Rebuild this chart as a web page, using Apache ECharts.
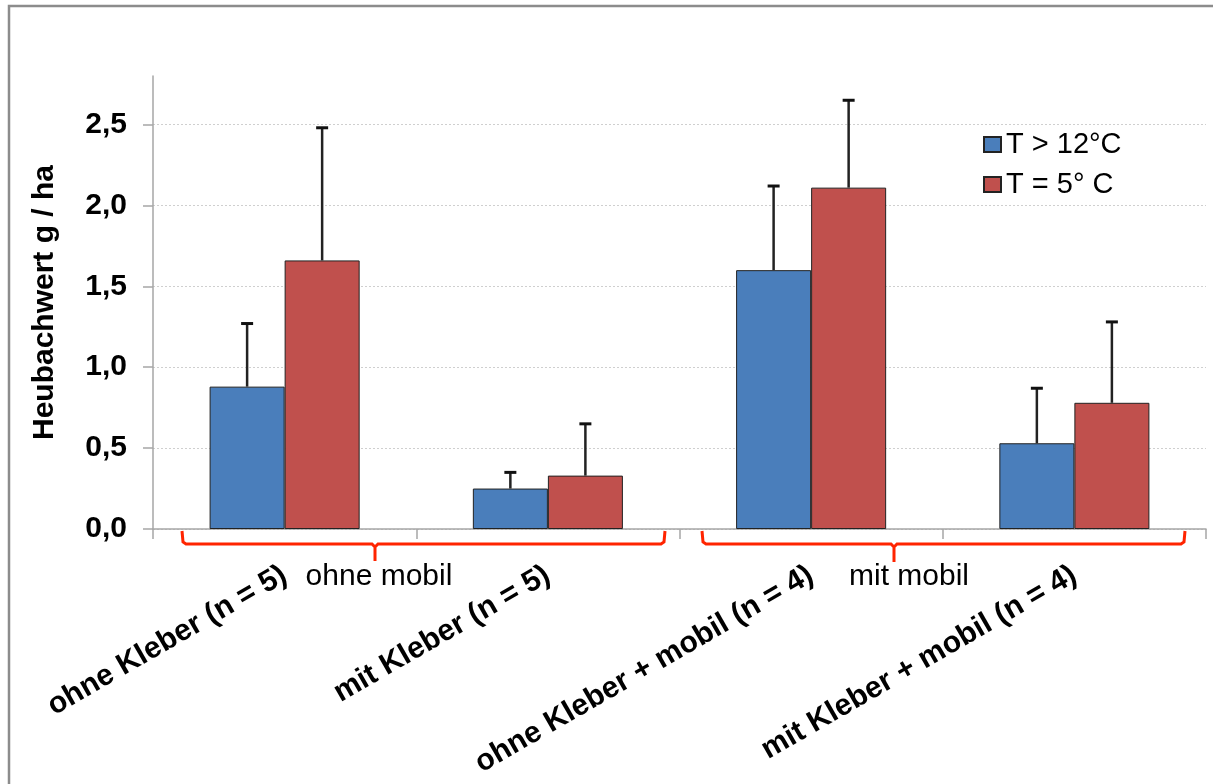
<!DOCTYPE html>
<html>
<head>
<meta charset="utf-8">
<script src="https://cdn.jsdelivr.net/npm/echarts@6/dist/echarts.min.js"></script>
<style>
html,body{margin:0;padding:0;background:#fff;}
#chart{width:1213px;height:784px;}
</style>
</head>
<body>
<div id="chart"></div>
<script>
const categories = ['ohne Kleber (n = 5)', 'mit Kleber (n = 5)', 'ohne Kleber + mobil (n = 4)', 'mit Kleber + mobil (n = 4)'];
const seriesNames = ['T > 12°C', 'T = 5° C'];
const warmMean = [0.88, 0.25, 1.60, 0.53];
const warmSD   = [0.39, 0.10, 0.52, 0.34];
const coldMean = [1.66, 0.33, 2.11, 0.78];
const coldSD   = [0.82, 0.32, 0.54, 0.50];
const yTicks = [0, 0.5, 1, 1.5, 2, 2.5];
const groupLabels = ['ohne mobil', 'mit mobil'];

const FONT = "'Liberation Sans', Arial, sans-serif";
const COLORS = ['#4A7EBB', '#C0504D'];
const CAT_GAP = 0.43;

const chart = echarts.init(document.getElementById('chart'));

function errRender(sign) {
  return function (params, api) {
    const idx = api.value(0);
    const mean = api.value(1);
    const sd = api.value(2);
    const band = api.size([1, 0])[0];
    const off = sign * band * (1 - CAT_GAP) / 4;
    const p0 = api.coord([idx, mean]);
    const p1 = api.coord([idx, mean + sd]);
    const x = p0[0] + off;
    const cap = 6;
    return {
      type: 'group',
      children: [
        {type: 'line', shape: {x1: x, y1: p0[1], x2: x, y2: p1[1]}, style: {stroke: '#222', lineWidth: 2.5}},
        {type: 'line', shape: {x1: x - cap, y1: p1[1], x2: x + cap, y2: p1[1]}, style: {stroke: '#111', lineWidth: 3}}
      ]
    };
  };
}

const option = {
  animation: false,
  backgroundColor: '#fff',
  textStyle: {fontFamily: FONT},
  grid: {left: 153, right: 7, top: 76, bottom: 255, containLabel: false},
  legend: {
    orient: 'vertical',
    left: 978, top: 125,
    icon: 'rect',
    itemWidth: 17, itemHeight: 15, itemGap: 11,
    textStyle: {fontFamily: FONT, fontSize: 29, color: '#000'},
    data: seriesNames
  },
  xAxis: {
    type: 'category',
    data: categories,
    axisLine: {lineStyle: {color: '#a6a6a6', width: 1.5}},
    axisTick: {show: true, length: 10, alignWithLabel: false, lineStyle: {color: '#a6a6a6', width: 1.5}},
    axisLabel: {
      interval: 0, rotate: 30, margin: 44,
      fontFamily: FONT, fontWeight: 'bold', fontSize: 30, color: '#000'
    },
    splitLine: {show: false}
  },
  yAxis: {
    type: 'value',
    min: 0, max: 2.8,
    name: 'Heubachwert g / ha',
    nameLocation: 'middle',
    nameGap: 93,
    nameTextStyle: {fontFamily: FONT, fontWeight: 'bold', fontSize: 30, color: '#000'},
    axisLine: {show: true, lineStyle: {color: '#a6a6a6', width: 1.5}},
    axisTick: {show: true, length: 10, customValues: yTicks, lineStyle: {color: '#a6a6a6', width: 1.5}},
    axisLabel: {
      customValues: yTicks, margin: 26,
      fontFamily: FONT, fontWeight: 'bold', fontSize: 30, color: '#000',
      formatter: v => v.toFixed(1).replace('.', ',')
    },
    splitLine: {show: true, lineStyle: {color: '#cfcfcf', type: [2, 2], width: 1}}
  },
  series: [
    {
      name: seriesNames[0], type: 'bar', data: warmMean,
      barGap: 0, barCategoryGap: (CAT_GAP * 100) + '%',
      itemStyle: {color: COLORS[0], borderColor: '#222', borderWidth: 1}
    },
    {
      name: seriesNames[1], type: 'bar', data: coldMean,
      barGap: 0, barCategoryGap: (CAT_GAP * 100) + '%',
      itemStyle: {color: COLORS[1], borderColor: '#222', borderWidth: 1}
    },
    {
      type: 'custom', name: 'errWarm', renderItem: errRender(-1), z: 5,
      data: warmMean.map((m, i) => [i, m, warmSD[i]]),
      encode: {x: 0, y: [1]}, silent: true
    },
    {
      type: 'custom', name: 'errCold', renderItem: errRender(1), z: 5,
      data: coldMean.map((m, i) => [i, m, coldSD[i]]),
      encode: {x: 0, y: [1]}, silent: true
    }
  ],
  graphic: [
    {type: 'rect', shape: {x: 9, y: 6, width: 1300, height: 1000}, style: {fill: null, stroke: '#8c8c8c', lineWidth: 2.5}, silent: true, z: 100},
    {type: 'polyline', shape: {points: [[182, 531], [183, 542], [186, 544], [372, 544], [375, 547], [375, 561], [375, 547], [378, 544], [661, 544], [664, 542], [665, 531]]},
     style: {stroke: '#ff2400', lineWidth: 3, fill: null}, silent: true, z: 50},
    {type: 'polyline', shape: {points: [[702, 531], [703, 542], [706, 544], [891, 544], [894, 547], [894, 562], [894, 547], [897, 544], [1181, 544], [1184, 542], [1185, 531]]},
     style: {stroke: '#ff2400', lineWidth: 3, fill: null}, silent: true, z: 50},
    {type: 'text', x: 379, y: 577, style: {text: groupLabels[0], fontFamily: FONT, fontSize: 30, fill: '#000', textAlign: 'center', textVerticalAlign: 'middle'}, z: 60},
    {type: 'text', x: 909, y: 577, style: {text: groupLabels[1], fontFamily: FONT, fontSize: 30, fill: '#000', textAlign: 'center', textVerticalAlign: 'middle'}, z: 60}
  ]
};
chart.setOption(option);
</script>
</body>
</html>
